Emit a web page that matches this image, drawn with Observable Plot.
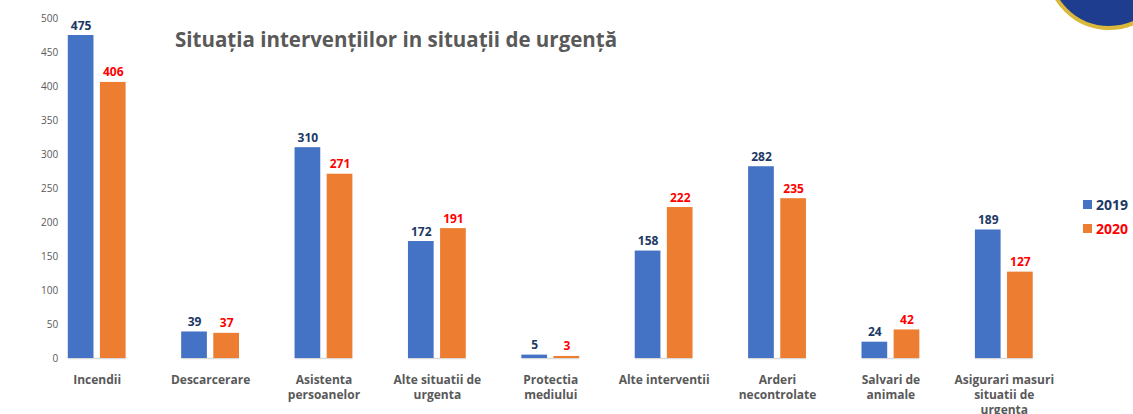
<!DOCTYPE html>
<html>
<head>
<meta charset="utf-8">
<script src="https://cdn.jsdelivr.net/npm/d3@7"></script>
<script src="https://cdn.jsdelivr.net/npm/@observablehq/plot@0.6"></script>
<style>
  body { margin: 0; background: #fff; font-family: "Open Sans", sans-serif; }
  #wrap { position: relative; width: 1133px; height: 414px; overflow: hidden; }
  #title { position: absolute; left: 175px; top: 25px; font-size: 20.5px; line-height: 28px; font-weight: bold; color: #595959; white-space: nowrap; }
  .leg { position: absolute; left: 1083px; font-size: 14px; font-weight: bold; white-space: nowrap; }
  .leg span.sw { display: inline-block; width: 9px; height: 9px; margin-right: 4px; vertical-align: 1px; }
  #logo { position: absolute; left: 1046px; top: -96px; width: 118px; height: 118px; border-radius: 50%; background: #1f3d8f; border: 4px solid #d9b83a; }
</style>
</head>
<body>
<div id="wrap">
  <div id="logo"></div>
  <div id="title">Situația intervențiilor in situații de urgență</div>
  <div class="leg" style="top:195px;color:#203864"><span class="sw" style="background:#4472c4"></span>2019</div>
  <div class="leg" style="top:219px;color:#ff0000"><span class="sw" style="background:#ed7d31"></span>2020</div>
</div>
<script>
const categories = ["Incendii", "Descarcerare", "Asistenta persoanelor", "Alte situatii de urgenta", "Protectia mediului", "Alte interventii", "Arderi necontrolate", "Salvari de animale", "Asigurari masuri situatii de urgenta"];
const categoryLabels = ["Incendii", "Descarcerare", "Asistenta\npersoanelor", "Alte situatii de\nurgenta", "Protectia\nmediului", "Alte interventii", "Arderi\nnecontrolate", "Salvari de\nanimale", "Asigurari masuri\nsituatii de\nurgenta"];
const years = ["2019", "2020"];
const values2019 = [475, 39, 310, 172, 5, 158, 282, 24, 189];
const values2020 = [406, 37, 271, 191, 3, 222, 235, 42, 127];
const yTicks = [0, 50, 100, 150, 200, 250, 300, 350, 400, 450, 500];

const data = [];
categories.forEach((c, i) => {
  data.push({cat: c, year: "2019", value: values2019[i]});
  data.push({cat: c, year: "2020", value: values2020[i]});
});
const labelMap = new Map(categories.map((c, i) => [c, categoryLabels[i]]));
const d19 = data.filter(d => d.year === "2019");
const d20 = data.filter(d => d.year === "2020");

const chart = Plot.plot({
  width: 1133,
  height: 414,
  marginLeft: 40,
  marginRight: 72.5,
  marginTop: 18,
  marginBottom: 56,
  style: {fontFamily: "'Open Sans', sans-serif", color: "#595959", background: "transparent"},
  fx: {domain: categories, paddingInner: 0.49, paddingOuter: 0.245, round: false, axis: null},
  x: {domain: years, paddingInner: 0.2, paddingOuter: 0, round: false, axis: null},
  y: {domain: [0, 500], axis: null},
  marks: [
    Plot.axisY({ticks: yTicks, tickSize: 0, tickPadding: 10, fontSize: 10, label: null, fill: "#595959"}),
    Plot.axisFx({anchor: "bottom", tickSize: 0, tickPadding: 15, fontSize: 12, fontWeight: "bold", lineHeight: 1.25, label: null, tickFormat: d => labelMap.get(d), fill: "#595959"}),
    Plot.ruleY([0], {stroke: "#d9d9d9", strokeWidth: 1.5}),
    Plot.barY(d19, {fx: "cat", x: "year", y: "value", fill: "#4472c4"}),
    Plot.barY(d20, {fx: "cat", x: "year", y: "value", fill: "#ed7d31"}),
    Plot.text(d19, {fx: "cat", x: "year", y: "value", text: d => String(d.value), fill: "#203864", fontWeight: "bold", fontSize: 12, lineAnchor: "bottom", dy: -6}),
    Plot.text(d20, {fx: "cat", x: "year", y: "value", text: d => String(d.value), fill: "#ff0000", fontWeight: "bold", fontSize: 12, lineAnchor: "bottom", dy: -6})
  ]
});
chart.style.position = "absolute";
chart.style.left = "0px";
chart.style.top = "0px";
document.getElementById("wrap").insertBefore(chart, document.getElementById("title"));
</script>
</body>
</html>
